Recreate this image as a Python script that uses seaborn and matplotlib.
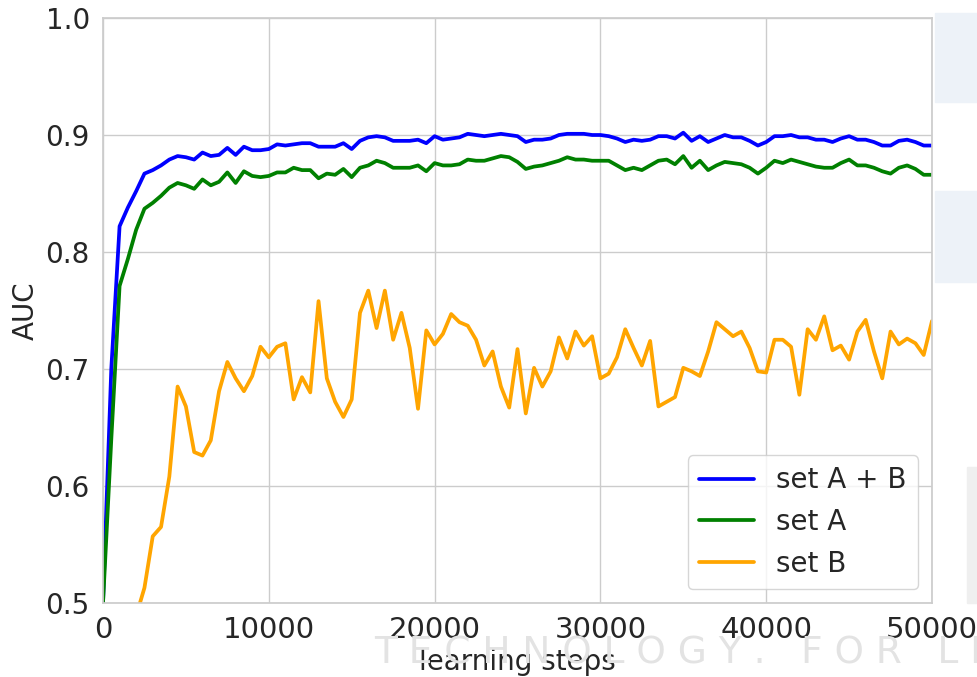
import numpy as np
import pandas as pd
import matplotlib
matplotlib.use("Agg")
import matplotlib.pyplot as plt
import seaborn as sns
from matplotlib.patches import Rectangle

# learning steps, one point every 500 steps
steps = list(range(0, 50001, 500))

auc_ab = [
    0.500, 0.700, 0.822, 0.838, 0.852, 0.867, 0.870, 0.874, 0.879, 0.882,
    0.881, 0.879, 0.885, 0.882, 0.883, 0.889, 0.883, 0.890, 0.887, 0.887,
    0.888, 0.892, 0.891, 0.892, 0.893, 0.893, 0.890, 0.890, 0.890, 0.893,
    0.888, 0.895, 0.898, 0.899, 0.898, 0.895, 0.895, 0.895, 0.896, 0.893,
    0.899, 0.896, 0.897, 0.898, 0.901, 0.900, 0.899, 0.900, 0.901, 0.900,
    0.899, 0.894, 0.896, 0.896, 0.897, 0.900, 0.901, 0.901, 0.901, 0.900,
    0.900, 0.899, 0.897, 0.894, 0.896, 0.895, 0.896, 0.899, 0.899, 0.897,
    0.902, 0.895, 0.899, 0.894, 0.897, 0.900, 0.898, 0.898, 0.895, 0.891,
    0.894, 0.899, 0.899, 0.900, 0.898, 0.898, 0.896, 0.896, 0.894, 0.897,
    0.899, 0.896, 0.896, 0.894, 0.891, 0.891, 0.895, 0.896, 0.894, 0.891,
    0.891,
]

auc_a = [
    0.500, 0.640, 0.771, 0.794, 0.819, 0.837, 0.842, 0.848, 0.855, 0.859,
    0.857, 0.854, 0.862, 0.857, 0.860, 0.868, 0.859, 0.869, 0.865, 0.864,
    0.865, 0.868, 0.868, 0.872, 0.870, 0.870, 0.863, 0.867, 0.866, 0.871,
    0.864, 0.872, 0.874, 0.878, 0.876, 0.872, 0.872, 0.872, 0.874, 0.869,
    0.876, 0.874, 0.874, 0.875, 0.879, 0.878, 0.878, 0.880, 0.882, 0.881,
    0.877, 0.871, 0.873, 0.874, 0.876, 0.878, 0.881, 0.879, 0.879, 0.878,
    0.878, 0.878, 0.874, 0.870, 0.872, 0.870, 0.874, 0.878, 0.879, 0.875,
    0.882, 0.872, 0.878, 0.870, 0.874, 0.877, 0.876, 0.875, 0.872, 0.867,
    0.872, 0.878, 0.876, 0.879, 0.877, 0.875, 0.873, 0.872, 0.872, 0.876,
    0.879, 0.874, 0.874, 0.872, 0.869, 0.867, 0.872, 0.874, 0.871, 0.866,
    0.866,
]

auc_b = [
    0.300, 0.380, 0.430, 0.470, 0.489, 0.513, 0.557, 0.565, 0.608, 0.685,
    0.668, 0.629, 0.626, 0.639, 0.681, 0.706, 0.692, 0.681, 0.694, 0.719,
    0.710, 0.719, 0.722, 0.674, 0.693, 0.680, 0.758, 0.692, 0.672, 0.659,
    0.674, 0.748, 0.767, 0.735, 0.767, 0.725, 0.748, 0.718, 0.666, 0.733,
    0.721, 0.730, 0.747, 0.740, 0.737, 0.725, 0.703, 0.715, 0.685, 0.667,
    0.717, 0.662, 0.701, 0.685, 0.698, 0.727, 0.709, 0.732, 0.720, 0.728,
    0.692, 0.696, 0.710, 0.734, 0.718, 0.703, 0.724, 0.668, 0.672, 0.676,
    0.701, 0.698, 0.694, 0.715, 0.740, 0.734, 0.728, 0.732, 0.718, 0.698,
    0.697, 0.725, 0.725, 0.719, 0.678, 0.734, 0.725, 0.745, 0.716, 0.720,
    0.708, 0.732, 0.742, 0.715, 0.692, 0.732, 0.721, 0.726, 0.722, 0.712,
    0.741,
]

series_names = ["set A + B", "set A", "set B"]
series_colors = ["blue", "green", "orange"]


def main():
    sns.set_theme(style="whitegrid")
    plt.rcParams['font.family'] = ['DejaVu Sans']

    df = pd.concat([
        pd.DataFrame({"step": steps, "AUC": vals, "set": name})
        for name, vals in zip(series_names, [auc_ab, auc_a, auc_b])
    ])

    fig = plt.figure(figsize=(9.77, 6.77), dpi=100)

    # faint watermark left in the source picture
    fig.patches.append(Rectangle((935 / 977, 1 - 102 / 677), 42 / 977, 89 / 677,
                                 transform=fig.transFigure, color="#edf2f8", zorder=0))
    fig.patches.append(Rectangle((935 / 977, 1 - 282 / 677), 42 / 977, 91 / 677,
                                 transform=fig.transFigure, color="#edf2f8", zorder=0))
    fig.patches.append(Rectangle((967 / 977, 1 - 603 / 677), 10 / 977, 136 / 677,
                                 transform=fig.transFigure, color="#efefef", zorder=0))
    fig.text(374 / 977, 1 - 663 / 677, "T E C H N O L O G Y .   F O R   L I",
             fontsize=27, color="#e3e3e3",
             ha="left", va="baseline", zorder=0)

    ax = fig.add_axes([103 / 977, 1 - 603 / 677, 829 / 977, 585 / 677])
    sns.lineplot(data=df, x="step", y="AUC", hue="set", hue_order=series_names,
                 palette=dict(zip(series_names, series_colors)), linewidth=2.7, ax=ax)

    ax.set_xlim(0, 50000)
    ax.set_ylim(0.5, 1.0)
    ax.set_xticks([0, 10000, 20000, 30000, 40000, 50000])
    ax.set_yticks([0.5, 0.6, 0.7, 0.8, 0.9, 1.0])
    ax.tick_params(axis="x", labelsize=21, colors="#262626", pad=3)
    ax.tick_params(axis="y", labelsize=20, colors="#262626")
    ax.set_xlabel("learning steps", fontsize=20, color="#262626", labelpad=3)
    ax.set_ylabel("AUC", fontsize=20, color="#262626", labelpad=4)

    ax.legend(loc="lower right", fontsize=20, handlelength=2.0)

    fig.savefig("out.png", dpi=100)
    plt.close(fig)


if __name__ == "__main__":
    main()
